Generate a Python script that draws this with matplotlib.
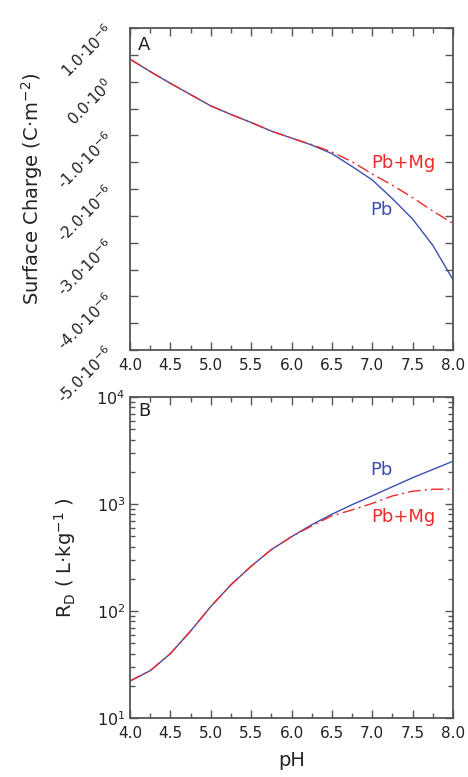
import matplotlib
matplotlib.use("Agg")
import matplotlib.pyplot as plt
from matplotlib.ticker import MultipleLocator, LogLocator, NullFormatter

# panel A: surface charge (units of 1e-6 C/m2)
ph = [4.0, 4.25, 4.5, 4.75, 5.0, 5.25, 5.5, 5.75, 6.0, 6.25, 6.5, 6.75, 7.0, 7.25, 7.5, 7.75, 8.0]
charge_pb = [0.42, 0.19, -0.03, -0.24, -0.45, -0.61, -0.76, -0.92, -1.05, -1.18, -1.34, -1.58, -1.83, -2.18, -2.56, -3.05, -3.69]
charge_pbmg = [0.42, 0.19, -0.03, -0.24, -0.45, -0.61, -0.76, -0.92, -1.05, -1.17, -1.31, -1.49, -1.72, -1.93, -2.16, -2.41, -2.64]

# panel B: distribution coefficient RD (L/kg)
rd_pb = [22.2, 27.7, 40, 65, 110, 176, 262, 375, 495, 640, 803, 986, 1194, 1452, 1762, 2105, 2513]
rd_pbmg = [22.2, 27.7, 40, 65, 110, 176, 262, 375, 495, 625, 776, 882, 1014, 1190, 1318, 1374, 1380]

ytick_vals = [1, 0, -1, -2, -3, -4, -5]
ytick_labels = ["1.0·10$^{-6}$", "0.0·10$^{0}$", "-1.0·10$^{-6}$", "-2.0·10$^{-6}$",
                "-3.0·10$^{-6}$", "-4.0·10$^{-6}$", "-5.0·10$^{-6}$"]

blue = "#3b4fae"
red = "#ee2b2b"
grey = "#555555"
txt = "#222222"

plt.rcParams["font.family"] = "DejaVu Sans"
plt.rcParams["mathtext.fontset"] = "dejavusans"

fig = plt.figure(figsize=(4.68, 7.77), dpi=100)
ax1 = fig.add_axes([0.2778, 0.5495, 0.6902, 0.4144])
ax2 = fig.add_axes([0.2778, 0.0759, 0.6902, 0.4131])

for ax in (ax1, ax2):
    for s in ax.spines.values():
        s.set_color(grey)
        s.set_linewidth(1.3)
    ax.tick_params(which="both", direction="in", top=True, right=True, color=grey,
                   labelcolor=txt, labelsize=11)
    ax.tick_params(which="major", length=6, width=1)
    ax.tick_params(which="minor", length=3.5, width=1)
    ax.set_xlim(4.0, 8.0)
    ax.xaxis.set_major_locator(MultipleLocator(0.5))
    ax.xaxis.set_minor_locator(MultipleLocator(0.25))
    ax.set_xticks([4.0, 4.5, 5.0, 5.5, 6.0, 6.5, 7.0, 7.5, 8.0])
    ax.set_xticklabels(["4.0", "4.5", "5.0", "5.5", "6.0", "6.5", "7.0", "7.5", "8.0"])
    ax.tick_params(axis="x", pad=6)

# panel A
ax1.plot(ph, [v * 1e-6 for v in charge_pb], color=blue, lw=1)
ax1.plot(ph, [v * 1e-6 for v in charge_pbmg], color=red, lw=1, ls=(0, (9, 3, 1.5, 3)))
ax1.set_ylim(-5e-6, 1e-6)
ax1.set_yticks([v * 1e-6 for v in ytick_vals])
ax1.yaxis.set_minor_locator(MultipleLocator(0.5e-6))
ax1.tick_params(axis="y", which="minor", length=6)
ax1.set_yticklabels(ytick_labels, rotation=45, ha="right", va="center", rotation_mode="anchor")
ax1.tick_params(axis="y", pad=14)
ax1.set_ylabel("Surface Charge (C·m$^{-2}$)", fontsize=14, color=txt, labelpad=6)
ax1.text(0.025, 0.975, "A", transform=ax1.transAxes, fontsize=13, color=txt, va="top", ha="left")
ax1.text(7.39, -1.52e-6, "Pb+Mg", color=red, fontsize=13, ha="center", va="center")
ax1.text(7.11, -2.39e-6, "Pb", color=blue, fontsize=13, ha="center", va="center")

# panel B
ax2.plot(ph, rd_pb, color=blue, lw=1)
ax2.plot(ph, rd_pbmg, color=red, lw=1, ls=(0, (9, 3, 1.5, 3)))
ax2.set_yscale("log")
ax2.set_ylim(10, 1e4)
ax2.yaxis.set_major_locator(LogLocator(base=10))
ax2.yaxis.set_minor_locator(LogLocator(base=10, subs=range(2, 10)))
ax2.yaxis.set_minor_formatter(NullFormatter())
ax2.tick_params(axis="y", labelsize=11.5)
ax2.set_ylabel("R$_\\mathrm{D}$ ( L·kg$^{-1}$ )", fontsize=14, color=txt, labelpad=13)
ax2.set_xlabel("pH", fontsize=14, color=txt, labelpad=7)
ax2.text(0.025, 0.985, "B", transform=ax2.transAxes, fontsize=13, color=txt, va="top", ha="left")
ax2.text(7.11, 2080, "Pb", color=blue, fontsize=13, ha="center", va="center")
ax2.text(7.39, 757, "Pb+Mg", color=red, fontsize=13, ha="center", va="center")

fig.savefig("out.png", dpi=100)
